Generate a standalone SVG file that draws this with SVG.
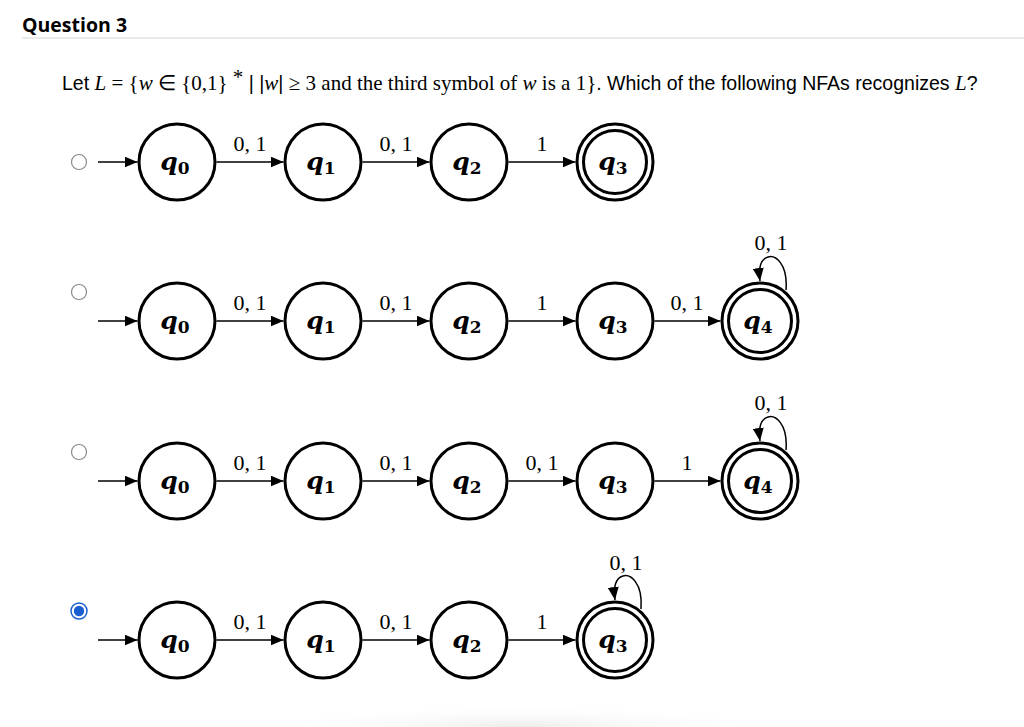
<svg xmlns="http://www.w3.org/2000/svg" width="1024" height="727" viewBox="0 0 1024 727">
<defs>
<marker id="ah" markerWidth="13" markerHeight="11" refX="13" refY="5.5" orient="auto" markerUnits="userSpaceOnUse"><path d="M0,0 L13,5.5 L0,11 Z" fill="#000"/></marker>
<radialGradient id="sh" cx="0.5" cy="1" r="0.6"><stop offset="0" stop-color="#ececec"/><stop offset="1" stop-color="#ffffff" stop-opacity="0"/></radialGradient>
</defs>
<style>
.st{fill:#fff;stroke:#000;stroke-width:3}
.ql{font-family:"DejaVu Serif",serif;font-weight:bold;font-style:italic;font-size:25px;text-anchor:middle}
.sub{font-style:normal;font-size:17px}
.el{font-family:"Liberation Serif",serif;font-size:22px;text-anchor:middle}
.ed{fill:none;stroke:#000;stroke-width:1.5;marker-end:url(#ah)}
.rb{fill:#fff;stroke:#8a8a8a;stroke-width:1.2}
.s{font-family:"Liberation Sans",sans-serif;font-size:19.5px}
.m{font-family:"Liberation Serif",serif;font-size:21px}
.mi{font-family:"Liberation Serif",serif;font-size:21px;font-style:italic}
</style>
<rect width="1024" height="727" fill="#fff"/>
<rect x="300" y="690" width="440" height="37" fill="url(#sh)"/>
<text x="22" y="32" font-family="'Open Sans',sans-serif" font-weight="bold" font-size="19.5">Question 3</text>
<line x1="22" y1="38" x2="1024" y2="38" stroke="#d4d4d4" stroke-width="1"/>
<text x="62" y="90"><tspan class="s">Let </tspan><tspan class="mi">L</tspan><tspan class="m"> = {</tspan><tspan class="mi">w</tspan><tspan class="m"> ∈ {0,1} </tspan><tspan class="m" font-size="15" dy="-6">*</tspan><tspan class="s" dy="6">  |  |</tspan><tspan class="mi">w</tspan><tspan class="s">| </tspan><tspan class="m">≥ 3 and the third symbol of </tspan><tspan class="mi">w</tspan><tspan class="m"> is a 1}</tspan><tspan class="s">. Which of the following NFAs recognizes </tspan><tspan class="mi">L</tspan><tspan class="s">?</tspan></text>

<g id="radios">
<circle class="rb" cx="79" cy="162" r="7.5"/>
<circle class="rb" cx="79" cy="292" r="7.5"/>
<circle class="rb" cx="79" cy="452" r="7.5"/>
<circle cx="79" cy="611" r="8" fill="#fff" stroke="#1a5fd0" stroke-width="1.5"/>
<circle cx="79" cy="611" r="5.2" fill="#1a5fd0"/>
</g>

<g id="connectors">
<!-- row 1 -->
<line class="ed" x1="98" y1="162" x2="137.5" y2="162"/>
<line class="ed" x1="216.5" y1="162" x2="283.5" y2="162"/>
<line class="ed" x1="362.5" y1="162" x2="429.5" y2="162"/>
<line class="ed" x1="508.5" y1="162" x2="575.5" y2="162"/>
<text class="el" x="250" y="151">0, 1</text>
<text class="el" x="396" y="151">0, 1</text>
<text class="el" x="542" y="151">1</text>
<!-- row 2 -->
<line class="ed" x1="98" y1="321" x2="137.5" y2="321"/>
<line class="ed" x1="216.5" y1="321" x2="283.5" y2="321"/>
<line class="ed" x1="362.5" y1="321" x2="429.5" y2="321"/>
<line class="ed" x1="508.5" y1="321" x2="575.5" y2="321"/>
<line class="ed" x1="654.5" y1="321" x2="720.5" y2="321"/>
<path class="ed" d="M786,290 C788,263 775,255 768,257 C761,259 758,266 760,281"/>
<text class="el" x="250" y="310">0, 1</text>
<text class="el" x="396" y="310">0, 1</text>
<text class="el" x="542" y="310">1</text>
<text class="el" x="687" y="310">0, 1</text>
<text class="el" x="771" y="250">0, 1</text>
<!-- row 3 -->
<line class="ed" x1="98" y1="481" x2="137.5" y2="481"/>
<line class="ed" x1="216.5" y1="481" x2="283.5" y2="481"/>
<line class="ed" x1="362.5" y1="481" x2="429.5" y2="481"/>
<line class="ed" x1="508.5" y1="481" x2="575.5" y2="481"/>
<line class="ed" x1="654.5" y1="481" x2="720.5" y2="481"/>
<path class="ed" d="M786,450 C788,423 775,415 768,417 C761,419 758,426 760,441"/>
<text class="el" x="250" y="470">0, 1</text>
<text class="el" x="396" y="470">0, 1</text>
<text class="el" x="542" y="470">0, 1</text>
<text class="el" x="687" y="470">1</text>
<text class="el" x="771" y="410">0, 1</text>
<!-- row 4 -->
<line class="ed" x1="98" y1="640" x2="137.5" y2="640"/>
<line class="ed" x1="216.5" y1="640" x2="283.5" y2="640"/>
<line class="ed" x1="362.5" y1="640" x2="429.5" y2="640"/>
<line class="ed" x1="508.5" y1="640" x2="575.5" y2="640"/>
<path class="ed" d="M641,609 C643,582 630,574 623,576 C616,578 613,585 615,600"/>
<text class="el" x="250" y="629">0, 1</text>
<text class="el" x="396" y="629">0, 1</text>
<text class="el" x="542" y="629">1</text>
<text class="el" x="626" y="570">0, 1</text>
</g>

<g id="r1q0"><circle class="st" cx="177" cy="162" r="38"/><text class="ql" x="175" y="170">q<tspan class="sub" dy="4">0</tspan></text></g>
<g id="r1q1"><circle class="st" cx="323" cy="162" r="38"/><text class="ql" x="321" y="170">q<tspan class="sub" dy="4">1</tspan></text></g>
<g id="r1q2"><circle class="st" cx="469" cy="162" r="38"/><text class="ql" x="467" y="170">q<tspan class="sub" dy="4">2</tspan></text></g>
<g id="r1q3"><circle class="st" cx="615" cy="162" r="38"/><circle class="st" cx="615" cy="162" r="31.5"/><text class="ql" x="613" y="170">q<tspan class="sub" dy="4">3</tspan></text></g>

<g id="r2q0"><circle class="st" cx="177" cy="321" r="38"/><text class="ql" x="175" y="329">q<tspan class="sub" dy="4">0</tspan></text></g>
<g id="r2q1"><circle class="st" cx="323" cy="321" r="38"/><text class="ql" x="321" y="329">q<tspan class="sub" dy="4">1</tspan></text></g>
<g id="r2q2"><circle class="st" cx="469" cy="321" r="38"/><text class="ql" x="467" y="329">q<tspan class="sub" dy="4">2</tspan></text></g>
<g id="r2q3"><circle class="st" cx="615" cy="321" r="38"/><text class="ql" x="613" y="329">q<tspan class="sub" dy="4">3</tspan></text></g>
<g id="r2q4"><circle class="st" cx="760" cy="321" r="38"/><circle class="st" cx="760" cy="321" r="31.5"/><text class="ql" x="758" y="329">q<tspan class="sub" dy="4">4</tspan></text></g>

<g id="r3q0"><circle class="st" cx="177" cy="481" r="38"/><text class="ql" x="175" y="489">q<tspan class="sub" dy="4">0</tspan></text></g>
<g id="r3q1"><circle class="st" cx="323" cy="481" r="38"/><text class="ql" x="321" y="489">q<tspan class="sub" dy="4">1</tspan></text></g>
<g id="r3q2"><circle class="st" cx="469" cy="481" r="38"/><text class="ql" x="467" y="489">q<tspan class="sub" dy="4">2</tspan></text></g>
<g id="r3q3"><circle class="st" cx="615" cy="481" r="38"/><text class="ql" x="613" y="489">q<tspan class="sub" dy="4">3</tspan></text></g>
<g id="r3q4"><circle class="st" cx="760" cy="481" r="38"/><circle class="st" cx="760" cy="481" r="31.5"/><text class="ql" x="758" y="489">q<tspan class="sub" dy="4">4</tspan></text></g>

<g id="r4q0"><circle class="st" cx="177" cy="640" r="38"/><text class="ql" x="175" y="648">q<tspan class="sub" dy="4">0</tspan></text></g>
<g id="r4q1"><circle class="st" cx="323" cy="640" r="38"/><text class="ql" x="321" y="648">q<tspan class="sub" dy="4">1</tspan></text></g>
<g id="r4q2"><circle class="st" cx="469" cy="640" r="38"/><text class="ql" x="467" y="648">q<tspan class="sub" dy="4">2</tspan></text></g>
<g id="r4q3"><circle class="st" cx="615" cy="640" r="38"/><circle class="st" cx="615" cy="640" r="31.5"/><text class="ql" x="613" y="648">q<tspan class="sub" dy="4">3</tspan></text></g>
</svg>
